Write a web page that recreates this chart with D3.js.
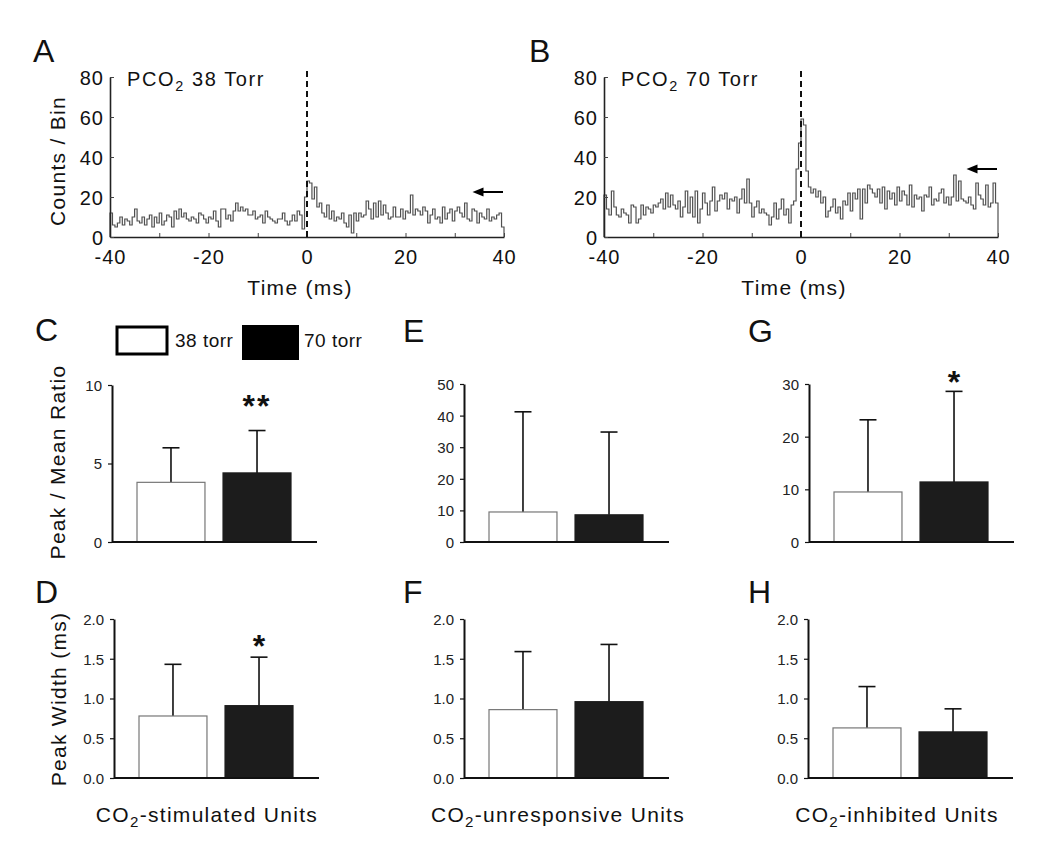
<!DOCTYPE html>
<html>
<head>
<meta charset="utf-8">
<script src="https://cdn.jsdelivr.net/npm/d3@7/dist/d3.min.js"></script>
<style>
  html, body { margin: 0; padding: 0; background: #ffffff; }
  svg { display: block; font-family: "Liberation Sans", Arial, Helvetica, sans-serif; }
</style>
</head>
<body>
<svg id="chart" width="1050" height="862"></svg>
<script>
// ---------------- DATA ----------------
// Cross-correlation histograms (0.5 ms bins from -40 to +40 ms)
const histBinStart = -40;
const histBinWidth = 0.5;
const histA = [
  12, 6, 5, 7, 10, 6, 9, 8, 6, 10,
  14, 8, 7, 10, 6, 9, 11, 5, 10, 7,
  12, 6, 8, 11, 10, 5, 13, 9, 14, 10,
  12, 9, 8, 10, 9, 7, 12, 11, 9, 7,
  10, 9, 13, 8, 5, 14, 14, 9, 11, 8,
  13, 17, 13, 15, 13, 14, 11, 11, 13, 9,
  10, 11, 7, 13, 10, 9, 8, 7, 9, 9,
  12, 8, 6, 8, 11, 8, 13, 11, 4, 20,
  28, 27, 19, 25, 15, 17, 12, 10, 16, 9,
  13, 8, 10, 9, 12, 7, 5, 11, 2, 12,
  8, 12, 10, 11, 18, 14, 9, 17, 10, 18,
  11, 16, 12, 9, 10, 15, 10, 10, 14, 9,
  13, 12, 21, 11, 14, 13, 11, 15, 13, 7,
  11, 14, 9, 10, 7, 15, 9, 12, 14, 8,
  13, 15, 12, 10, 17, 9, 8, 14, 13, 7,
  12, 10, 9, 14, 8, 10, 9, 11, 12, 5
];
const histB = [
  21, 14, 11, 23, 15, 11, 10, 14, 12, 11,
  7, 16, 15, 7, 9, 16, 11, 15, 14, 12,
  16, 15, 17, 19, 14, 22, 15, 21, 16, 14,
  18, 10, 15, 23, 12, 20, 10, 23, 7, 14,
  22, 17, 11, 18, 25, 13, 18, 21, 19, 22,
  14, 19, 18, 20, 12, 19, 24, 17, 29, 17,
  10, 15, 18, 12, 14, 12, 11, 6, 10, 17,
  9, 14, 19, 11, 14, 7, 16, 18, 34, 47,
  59, 56, 33, 25, 22, 24, 20, 23, 17, 20,
  10, 13, 15, 19, 12, 15, 9, 18, 16, 22,
  13, 22, 19, 24, 9, 24, 17, 26, 24, 22,
  20, 24, 17, 25, 14, 23, 19, 22, 16, 25,
  18, 23, 21, 16, 26, 15, 21, 19, 20, 13,
  21, 20, 25, 16, 19, 18, 22, 24, 17, 20,
  16, 20, 31, 18, 28, 19, 18, 17, 20, 16,
  14, 27, 21, 19, 16, 26, 15, 17, 27, 17
];
const histXDomain = [-40, 40];
const histYDomain = [0, 80];
const histXTicks = [-40, -30, -20, -10, 0, 10, 20, 30, 40];
const histXLabels = [-40, -20, 0, 20, 40];
const histYTicks = [0, 20, 40, 60, 80];
const histTitles = ["38 Torr", "70 Torr"];
const histArrowLevel = [22.5, 34]; // counts/bin, mean level marked by arrow

// Bar panels: groups
const groups = ["38 torr", "70 torr"];
const unitTypes = ["stimulated", "unresponsive", "inhibited"];

// Peak / Mean ratio (mean, SD) for C, E, G
const ratioMeanStim = [3.8, 4.4];
const ratioSDStim = [2.2, 2.7];
const ratioMeanUnresp = [9.5, 8.6];
const ratioSDUnresp = [31.7, 26.2];
const ratioMeanInhib = [9.5, 11.4];
const ratioSDInhib = [13.7, 17.2];

// Peak width in ms (mean, SD) for D, F, H
const widthMeanStim = [0.78, 0.91];
const widthSDStim = [0.65, 0.61];
const widthMeanUnresp = [0.86, 0.96];
const widthSDUnresp = [0.73, 0.72];
const widthMeanInhib = [0.63, 0.58];
const widthSDInhib = [0.52, 0.29];

const ratioTicksStim = [0, 5, 10];
const ratioTicksUnresp = [0, 10, 20, 30, 40, 50];
const ratioTicksInhib = [0, 10, 20, 30];
const widthTicks = [0, 0.5, 1.0, 1.5, 2.0];

const sigStim = ["", "**"];
const sigWidthStim = ["", "*"];
const sigInhib = ["", "*"];
const sigNone = ["", ""];

// ---------------- DRAW ----------------
const svg = d3.select("#chart");
svg.append("rect").attr("width", 1050).attr("height", 862).attr("fill", "#ffffff");

const FONT_TXT = "#111";

function panelLetter(letter, x, y) {
  svg.append("text").attr("x", x).attr("y", y)
    .attr("font-size", 32).attr("fill", "#111").text(letter);
}

function subText(g, x, y, parts, size, ls, anchor) {
  const t = g.append("text").attr("x", x).attr("y", y)
    .attr("font-size", size).attr("fill", FONT_TXT)
    .attr("letter-spacing", ls)
    .attr("text-anchor", anchor || "start");
  parts.forEach(p => {
    if (p.sub) {
      t.append("tspan").attr("dy", size * 0.25).attr("font-size", size * 0.72).text(p.text);
    } else {
      const s = t.append("tspan").text(p.text);
      if (p.after) s.attr("dy", -size * 0.25);
    }
  });
  return t;
}

// ---- Histograms ----
function drawHist(data, left, right, top, bottom, title, arrowLevel) {
  const g = svg.append("g");
  const x = d3.scaleLinear().domain(histXDomain).range([left, right]);
  const y = d3.scaleLinear().domain(histYDomain).range([bottom, top]);

  const pts = [[histXDomain[0], 0]]
    .concat(data.map((v, i) => [histBinStart + i * histBinWidth, v]))
    .concat([[histXDomain[1], data[data.length - 1]], [histXDomain[1], 0]]);
  const line = d3.line().x(d => x(d[0])).y(d => y(d[1])).curve(d3.curveStepAfter);
  g.append("path").attr("d", line(pts)).attr("fill", "none")
    .attr("stroke", "#505050").attr("stroke-width", 1.2);

  // Axes
  const xAxis = d3.axisBottom(x).tickValues(histXTicks)
    .tickSizeInner(-4).tickSizeOuter(0).tickPadding(13)
    .tickFormat(d => histXLabels.includes(d) ? String(d) : "");
  const gx = g.append("g").attr("transform", `translate(0,${bottom})`).call(xAxis);
  const yAxis = d3.axisLeft(y).tickValues(histYTicks)
    .tickSizeInner(-4).tickSizeOuter(0).tickPadding(6);
  const gy = g.append("g").attr("transform", `translate(${left},0)`).call(yAxis);
  [gx, gy].forEach(a => {
    a.select(".domain").attr("stroke", "#222").attr("stroke-width", 1.6);
    a.selectAll(".tick line").attr("stroke", "#444").attr("stroke-width", 1);
    a.selectAll(".tick text").attr("font-size", 20).attr("fill", FONT_TXT)
      .attr("font-family", "Liberation Sans, Arial, sans-serif").attr("letter-spacing", 1);
  });
  gy.selectAll(".tick text").attr("dy", "0.36em");
  gx.selectAll(".tick text").attr("dy", "0.72em");

  // dashed zero line
  g.append("line").attr("x1", x(0)).attr("x2", x(0))
    .attr("y1", y(0)).attr("y2", y(84))
    .attr("stroke", "#111").attr("stroke-width", 2).attr("stroke-dasharray", "6,4");

  // arrow
  const ax1 = x(39.8), ax2 = x(33.6), ay = y(arrowLevel);
  g.append("line").attr("x1", ax1).attr("x2", ax2 + 8).attr("y1", ay).attr("y2", ay)
    .attr("stroke", "#000").attr("stroke-width", 2);
  g.append("path").attr("d", `M${ax2},${ay} L${ax2 + 11},${ay - 4.5} L${ax2 + 11},${ay + 4.5} Z`)
    .attr("fill", "#000");

  // title
  subText(g, left + 17, top + 9, [{ text: "PCO" }, { text: "2", sub: true }, { text: " " + title, after: true }], 20, 1.6);

  // axis titles
  g.append("text").attr("x", (left + right) / 2 - 7).attr("y", bottom + 58)
    .attr("text-anchor", "middle").attr("font-size", 21).attr("letter-spacing", 1.3)
    .attr("fill", FONT_TXT).text("Time (ms)");
}

drawHist(histA, 110, 504, 77, 237, histTitles[0], histArrowLevel[0]);
drawHist(histB, 604, 998, 77, 237, histTitles[1], histArrowLevel[1]);

svg.append("text").attr("transform", "translate(65,161) rotate(-90)")
  .attr("text-anchor", "middle").attr("font-size", 21).attr("letter-spacing", 1.3)
  .attr("fill", FONT_TXT).text("Counts / Bin");

panelLetter("A", 33, 62);
panelLetter("B", 529, 62);

// ---- Bar panels ----
function drawBars(cfg) {
  const g = svg.append("g");
  const y = d3.scaleLinear().domain([0, cfg.ticks[cfg.ticks.length - 1]]).range([cfg.bottom, cfg.top]);
  const x = d3.scaleBand().domain(groups).range([cfg.left + 25, cfg.left + 179])
    .paddingInner(0.21).paddingOuter(0);

  // error bars (drawn first so bars cover lower part)
  groups.forEach((grp, i) => {
    const cx = x(grp) + x.bandwidth() / 2;
    const yTop = y(cfg.mean[i] + cfg.sd[i]);
    g.append("line").attr("x1", cx).attr("x2", cx)
      .attr("y1", y(cfg.mean[i])).attr("y2", yTop)
      .attr("stroke", "#111").attr("stroke-width", 1.6);
    g.append("line").attr("x1", cx - 8.5).attr("x2", cx + 8.5)
      .attr("y1", yTop).attr("y2", yTop)
      .attr("stroke", "#111").attr("stroke-width", 1.6);
    if (cfg.sig[i]) {
      g.append("text").attr("x", cx).attr("y", yTop - cfg.sigOffset)
        .attr("text-anchor", "middle").attr("font-size", 32).attr("font-weight", "bold")
        .attr("letter-spacing", cfg.sig[i].length > 1 ? 2 : 0)
        .attr("fill", "#111").text(cfg.sig[i]);
    }
  });

  g.selectAll("rect.bar").data(groups).join("rect")
    .attr("class", "bar")
    .attr("x", d => x(d))
    .attr("width", x.bandwidth())
    .attr("y", (d, i) => y(cfg.mean[i]))
    .attr("height", (d, i) => y(0) - y(cfg.mean[i]))
    .attr("fill", (d, i) => i === 0 ? "#ffffff" : "#1c1c1c")
    .attr("stroke", (d, i) => i === 0 ? "#777" : "#1c1c1c")
    .attr("stroke-width", 1.2);

  // axes
  const yAxis = d3.axisLeft(y).tickValues(cfg.ticks)
    .tickSizeInner(4).tickSizeOuter(0).tickPadding(6)
    .tickFormat(cfg.fmt);
  const gy = g.append("g").attr("transform", `translate(${cfg.left},0)`).call(yAxis);
  gy.select(".domain").attr("stroke", "#111").attr("stroke-width", 2);
  gy.selectAll(".tick line").attr("stroke", "#111").attr("stroke-width", 1.2);
  gy.selectAll(".tick text").attr("font-size", 15).attr("fill", "#222")
    .attr("font-family", "Liberation Sans, Arial, sans-serif").attr("dy", "0.36em");

  g.append("line").attr("x1", cfg.left).attr("x2", cfg.left + 205)
    .attr("y1", y(0)).attr("y2", y(0))
    .attr("stroke", "#111").attr("stroke-width", 2);
}

const intFmt = d3.format("d");
const oneFmt = d3.format(".1f");

drawBars({ left: 112, top: 385, bottom: 542, mean: ratioMeanStim, sd: ratioSDStim, ticks: ratioTicksStim, fmt: intFmt, sig: sigStim, sigOffset: 14 });
drawBars({ left: 464, top: 384, bottom: 542, mean: ratioMeanUnresp, sd: ratioSDUnresp, ticks: ratioTicksUnresp, fmt: intFmt, sig: sigNone, sigOffset: 14 });
drawBars({ left: 809, top: 384, bottom: 542, mean: ratioMeanInhib, sd: ratioSDInhib, ticks: ratioTicksInhib, fmt: intFmt, sig: sigInhib, sigOffset: -2 });

drawBars({ left: 114, top: 619, bottom: 778, mean: widthMeanStim, sd: widthSDStim, ticks: widthTicks, fmt: oneFmt, sig: sigWidthStim, sigOffset: 0 });
drawBars({ left: 464, top: 619, bottom: 778, mean: widthMeanUnresp, sd: widthSDUnresp, ticks: widthTicks, fmt: oneFmt, sig: sigNone, sigOffset: 0 });
drawBars({ left: 808, top: 619, bottom: 778, mean: widthMeanInhib, sd: widthSDInhib, ticks: widthTicks, fmt: oneFmt, sig: sigNone, sigOffset: 0 });

// Y axis titles
svg.append("text").attr("transform", "translate(65,462) rotate(-90)")
  .attr("text-anchor", "middle").attr("font-size", 21).attr("letter-spacing", 1.3)
  .attr("fill", FONT_TXT).text("Peak / Mean Ratio");
svg.append("text").attr("transform", "translate(66,699) rotate(-90)")
  .attr("text-anchor", "middle").attr("font-size", 21).attr("letter-spacing", 1.3)
  .attr("fill", FONT_TXT).text("Peak Width (ms)");

// X category titles
const unitCenters = [207, 558, 897];
unitTypes.forEach((u, i) => {
  subText(svg, unitCenters[i], 822, [{ text: "CO" }, { text: "2", sub: true }, { text: "-" + u + " Units", after: true }], 21, 1.3, "middle");
});

// Legend
svg.append("rect").attr("x", 117).attr("y", 327).attr("width", 50).attr("height", 27)
  .attr("fill", "#fff").attr("stroke", "#000").attr("stroke-width", 3);
svg.append("text").attr("x", 175).attr("y", 347).attr("font-size", 19)
  .attr("letter-spacing", 0.5).attr("fill", FONT_TXT).text(groups[0]);
svg.append("rect").attr("x", 242).attr("y", 325).attr("width", 57).attr("height", 35)
  .attr("fill", "#000");
svg.append("text").attr("x", 304).attr("y", 347).attr("font-size", 19)
  .attr("letter-spacing", 0.5).attr("fill", FONT_TXT).text(groups[1]);

// Panel letters
panelLetter("C", 35, 341);
panelLetter("E", 403, 342);
panelLetter("G", 748, 342);
panelLetter("D", 35, 603);
panelLetter("F", 403, 603);
panelLetter("H", 748, 603);
</script>
</body>
</html>
